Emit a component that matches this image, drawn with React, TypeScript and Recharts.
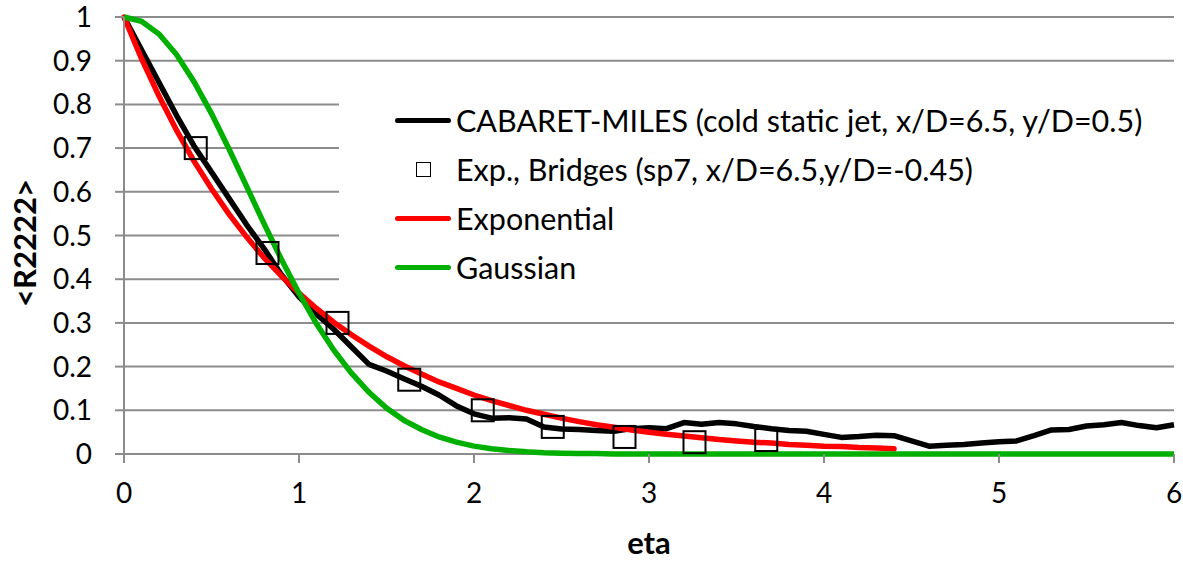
import React from "react";
import {
  ComposedChart,
  Line,
  Scatter,
  XAxis,
  YAxis,
  CartesianGrid,
  Legend,
} from "recharts";

// eta sampling grid shared by the line series (0 to 6, step 0.1)
const etaGrid = [
  0, 0.1, 0.2, 0.3, 0.4, 0.5, 0.6, 0.7, 0.8, 0.9,
  1.0, 1.1, 1.2, 1.3, 1.4, 1.5, 1.6, 1.7, 1.8, 1.9,
  2.0, 2.1, 2.2, 2.3, 2.4, 2.5, 2.6, 2.7, 2.8, 2.9,
  3.0, 3.1, 3.2, 3.3, 3.4, 3.5, 3.6, 3.7, 3.8, 3.9,
  4.0, 4.1, 4.2, 4.3, 4.4, 4.5, 4.6, 4.7, 4.8, 4.9,
  5.0, 5.1, 5.2, 5.3, 5.4, 5.5, 5.6, 5.7, 5.8, 5.9,
  6.0,
];

// CABARET-MILES correlation
const lesValues = [
  1.0, 0.925, 0.85, 0.775, 0.705, 0.645, 0.585, 0.525, 0.47, 0.41,
  0.36, 0.32, 0.285, 0.245, 0.205, 0.19, 0.172, 0.155, 0.135, 0.11,
  0.092, 0.082, 0.083, 0.08, 0.062, 0.057, 0.056, 0.054, 0.052, 0.058,
  0.06, 0.058, 0.072, 0.068, 0.072, 0.069, 0.063, 0.058, 0.054, 0.052,
  0.045, 0.038, 0.04, 0.043, 0.042, 0.03, 0.018, 0.02, 0.022, 0.025,
  0.028, 0.03, 0.042, 0.055, 0.056, 0.064, 0.067, 0.072, 0.065, 0.06,
  0.067,
];

// Exponential fit (defined up to eta = 4.4)
const expoValues = [
  1.0, 0.905, 0.819, 0.741, 0.67, 0.607, 0.549, 0.497, 0.449, 0.407,
  0.368, 0.333, 0.301, 0.273, 0.247, 0.223, 0.202, 0.183, 0.165, 0.15,
  0.135, 0.122, 0.111, 0.1, 0.091, 0.082, 0.074, 0.067, 0.061, 0.055,
  0.05, 0.045, 0.041, 0.037, 0.033, 0.03, 0.027, 0.025, 0.022, 0.02,
  0.018, 0.017, 0.015, 0.014, 0.012,
];

// Gaussian fit
const gaussValues = [
  1.0, 0.99, 0.961, 0.914, 0.852, 0.779, 0.698, 0.613, 0.527, 0.445,
  0.368, 0.298, 0.237, 0.185, 0.141, 0.105, 0.077, 0.056, 0.039, 0.027,
  0.018, 0.012, 0.008, 0.005, 0.003, 0.002, 0.001, 0.001, 0, 0,
  0, 0, 0, 0, 0, 0, 0, 0, 0, 0,
  0, 0, 0, 0, 0, 0, 0, 0, 0, 0,
  0, 0, 0, 0, 0, 0, 0, 0, 0, 0,
  0,
];

// Experiment (Bridges, sp7)
const expEta = [0.41, 0.82, 1.22, 1.63, 2.05, 2.45, 2.86, 3.26, 3.67];
const expValues = [0.7, 0.46, 0.3, 0.17, 0.1, 0.062, 0.039, 0.027, 0.032];

const xTicks = [0, 1, 2, 3, 4, 5, 6];
const yTicks = [0, 0.1, 0.2, 0.3, 0.4, 0.5, 0.6, 0.7, 0.8, 0.9, 1];

const seriesNames = [
  "CABARET-MILES (cold static jet, x/D=6.5, y/D=0.5)",
  "Exp., Bridges (sp7, x/D=6.5,y/D=-0.45)",
  "Exponential",
  "Gaussian",
];
const seriesColors = ["#000000", "#000000", "#ff0000", "#00b000"];

const lineRows = etaGrid.map((eta, i) => ({
  eta,
  les: lesValues[i],
  expo: i < expoValues.length ? expoValues[i] : undefined,
  gauss: gaussValues[i],
}));

const expRows = expEta.map((eta, i) => ({ eta, exp: expValues[i] }));

const FONT = "Lato, 'Open Sans', sans-serif";
const GRID = "#8c8c8c";

const XTick = (props: any) => {
  const { x, y, payload } = props;
  return (
    <text x={x} y={y + 40} textAnchor="middle" fontSize={28} fill="#000" fontFamily={FONT}>
      {payload.value}
    </text>
  );
};

const YTick = (props: any) => {
  const { x, y, payload } = props;
  return (
    <text x={x - 23} y={y + 10} textAnchor="end" fontSize={28} fill="#000" fontFamily={FONT}>
      {String(payload.value)}
    </text>
  );
};

const SquareMark = (props: any) => {
  const { cx, cy } = props;
  if (cx == null || cy == null) return null;
  return (
    <rect x={cx - 11} y={cy - 11} width={22} height={22} fill="none" stroke="#000" strokeWidth={2} />
  );
};

const LegendBox = () => (
  <div style={{ paddingTop: 16, fontFamily: FONT }}>
    {seriesNames.map((name, i) => (
      <div key={name} style={{ display: "flex", alignItems: "center", height: 49 }}>
        <div style={{ width: 117, position: "relative", height: 49 }}>
          {i === 1 ? (
            <div
              style={{
                position: "absolute",
                left: 77,
                top: 17,
                width: 13,
                height: 13,
                border: "1.5px solid #000",
              }}
            />
          ) : (
            <div
              style={{
                position: "absolute",
                left: 56,
                top: 22,
                width: 56,
                height: 5,
                borderRadius: 3,
                background: seriesColors[i],
              }}
            />
          )}
        </div>
        <span style={{ fontSize: 30.5, color: "#000", whiteSpace: "nowrap", lineHeight: "49px" }}>
          {name}
        </span>
      </div>
    ))}
  </div>
);

export default function App() {
  return (
    <div style={{ position: "absolute", left: 0, top: 0, width: 1183, height: 562, background: "#fff" }}>
      <ComposedChart
        width={1183}
        height={562}
        data={lineRows}
        margin={{ top: 17, right: 9, bottom: 0, left: 0 }}
      >
        {/* the grid line at 0 doubles as the x axis line, kept beneath the series */}
        <CartesianGrid horizontal vertical={false} stroke={GRID} strokeWidth={2} />
        <XAxis
          dataKey="eta"
          type="number"
          domain={[0, 6]}
          ticks={xTicks}
          height={108}
          tickSize={9}
          tickMargin={0}
          axisLine={false}
          tickLine={{ stroke: GRID, strokeWidth: 2 }}
          tick={<XTick />}
          label={{
            content: () => (
              <text x={649} y={554} textAnchor="middle" fontSize={31} fontWeight="bold" fontFamily={FONT} fill="#000">
                eta
              </text>
            ),
          }}
        />
        <YAxis
          type="number"
          domain={[0, 1]}
          ticks={yTicks}
          width={124}
          tickSize={9}
          tickMargin={0}
          axisLine={{ stroke: GRID, strokeWidth: 2 }}
          tickLine={{ stroke: GRID, strokeWidth: 2 }}
          tick={<YTick />}
          label={{
            content: () => (
              <text
                transform="translate(36,243) rotate(-90)"
                textAnchor="middle"
                fontSize={31}
                fontWeight="bold"
                fontFamily={FONT}
                fill="#000"
              >
                {"<R2222>"}
              </text>
            ),
          }}
        />
        <Legend
          layout="vertical"
          align="center"
          verticalAlign="middle"
          content={<LegendBox />}
          wrapperStyle={{ left: 339, top: 80, width: 835, height: 212, background: "#fff", right: "auto", bottom: "auto" }}
        />
        <Line
          dataKey="les"
          name={seriesNames[0]}
          type="linear"
          stroke={seriesColors[0]}
          strokeWidth={5.5}
          strokeLinejoin="round"
          dot={false}
          activeDot={false}
          isAnimationActive={false}
        />
        <Line
          dataKey="expo"
          name={seriesNames[2]}
          type="linear"
          stroke={seriesColors[2]}
          strokeWidth={5.5}
          strokeLinecap="round"
          dot={false}
          activeDot={false}
          isAnimationActive={false}
        />
        <Line
          dataKey="gauss"
          name={seriesNames[3]}
          type="linear"
          stroke={seriesColors[3]}
          strokeWidth={5.5}
          dot={false}
          activeDot={false}
          isAnimationActive={false}
        />
        <Scatter
          data={expRows}
          dataKey="exp"
          name={seriesNames[1]}
          shape={<SquareMark />}
          isAnimationActive={false}
        />
      </ComposedChart>
    </div>
  );
}
